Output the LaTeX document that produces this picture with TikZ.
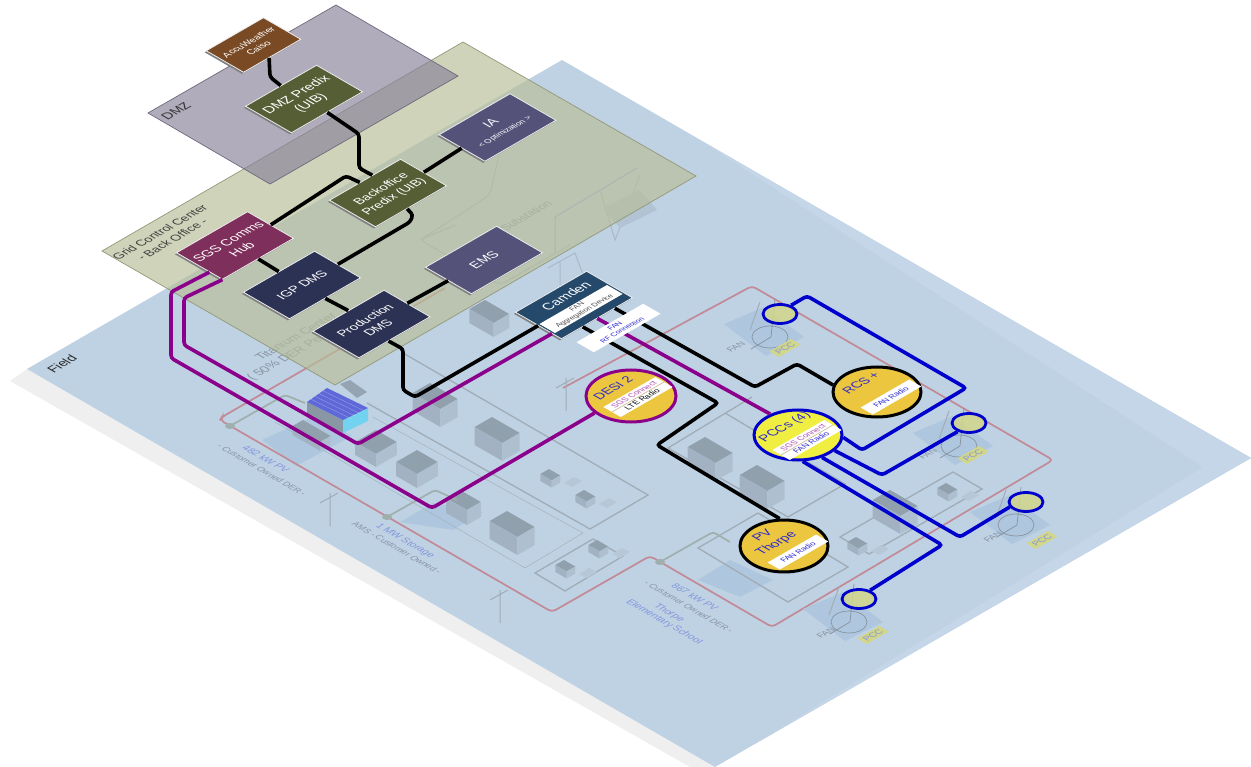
\documentclass[tikz,border=0pt]{standalone}
\usepackage{fontspec}
\setmainfont{Liberation Sans}
\usetikzlibrary{shapes.geometric,shadows}

\definecolor{fieldblue}{RGB}{191,210,228}
\definecolor{fieldout}{RGB}{196,214,231}
\definecolor{stripgray}{RGB}{239,239,239}
\definecolor{gridgreen}{RGB}{184,190,151}
\definecolor{dmzgray}{RGB}{137,131,155}
\definecolor{predixgreen}{RGB}{85,94,53}
\definecolor{ianavy}{RGB}{85,82,122}
\definecolor{dmsnavy}{RGB}{43,50,83}
\definecolor{hubred}{RGB}{127,47,91}
\definecolor{accubrown}{RGB}{122,74,36}
\definecolor{camdenblue}{RGB}{36,73,107}
\definecolor{wirepurple}{RGB}{139,0,139}
\definecolor{wireblue}{RGB}{0,0,204}
\definecolor{gold}{RGB}{236,198,63}
\definecolor{pccyellow}{RGB}{240,238,64}
\definecolor{sitegreen}{RGB}{210,214,138}
\definecolor{feederpink}{RGB}{194,138,150}
\definecolor{lotgray}{RGB}{160,172,182}
\definecolor{branchgray}{RGB}{159,176,172}
\definecolor{ghostblue}{RGB}{130,150,220}
\definecolor{ghostgray}{RGB}{135,148,165}
\definecolor{patchblue}{RGB}{175,199,222}
\definecolor{tagtan}{RGB}{205,190,150}
\definecolor{labelblue}{RGB}{40,40,210}

\tikzset{
  ft/.style={font=\fontsize{#1}{\the\dimexpr#1pt*6/5\relax}\selectfont},
  isoup/.style={cm={.866,.5,-.866,.5,(0,0)}},
  isodown/.style={cm={.866,-.5,.866,.5,(0,0)}},
  plane/.style={line width=.7pt},
  box/.style={isoup, draw=white!85!gray, line width=.8pt, text=white, align=center,
    inner sep=0pt, minimum width=82pt, minimum height=53pt,
    general shadow={fill=black!50, shadow xshift=-1.6pt, shadow yshift=-1.6pt}},
  tag/.style={isoup, fill=white, align=center, inner sep=0pt},
  lbl/.style={isoup, align=center, inner sep=0pt},
  ghost/.style={isodown, align=center, inner sep=0pt},
  round/.style={ellipse, line width=3pt, inner sep=0pt, minimum width=88pt, minimum height=50pt},
  site/.style={ellipse, draw=wireblue, line width=2.8pt, fill=sitegreen, fill opacity=.85,
    inner sep=0pt, minimum width=34pt, minimum height=19pt},
  wire/.style={line width=3.6pt, rounded corners=3pt},
  feeder/.style={draw=feederpink, line width=1.7pt, rounded corners=4pt},
  lot/.style={draw=lotgray, line width=1.3pt},
  branch/.style={draw=branchgray, line width=1.7pt, rounded corners=3pt},
}

\begin{document}
\begin{tikzpicture}[x=1pt,y=-1pt]
\useasboundingbox (0,0) rectangle (1251,767);

% field plane
\fill[stripgray] (27,369) -- (10,381) -- (690,767) -- (715,767) -- cycle;
\fill[fieldblue] (562,60) -- (1251,458) -- (715,767) -- (27,369) -- cycle;
\fill[fieldout] (700,140) -- (1251,458) -- (760,741) -- (1203,467) -- cycle;

% patches under the sites
\fill[patchblue] (262,440) -- (316,415) -- (352,436) -- (296,466) -- cycle;
\fill[patchblue] (400,522) -- (433,503) -- (483,512) -- (453,530) -- cycle;
\fill[patchblue] (698,580) -- (730,560) -- (773,580) -- (740,597) -- cycle;

% lots
\draw[lot] (367,403) -- (590,529) -- (648,495) -- (403,353);
\draw[lot, thin] (373,417) -- (583,533) -- (525,568) -- (275,422);
\draw[lot] (535,573) -- (593,539) -- (623,556) -- (565,591) -- cycle;
\draw[lot] (752,397) -- (668,448) -- (788,517) -- (845,484) -- (725,413);
\draw[lot] (698,548) -- (758,513) -- (848,567) -- (788,602) -- cycle;
\draw[lot] (840,537) -- (953,472) -- (982,489) -- (869,554) -- cycle;

% buildings
\foreach \bx/\by/\bl/\br/\bh in {430/383/20/32/18, 492/417/20/32/18, 507/511/20/32/18, 705/437/20/32/18,
    757/465/20/32/18, 890/490/20/32/18, 376/430/24/24/13, 417/450/24/24/14, 460/490/16/24/15,
    485/300/18/28/14, 303/420/12/32/9, 549/469/10/13/7, 584/490/10/13/7, 597/540/10/13/7,
    564/560/10/13/7, 856/537/10/13/7, 946/483/10/13/7} {
  \fill[black!24!fieldblue] (\bx,\by) -- ++({-.866*\bl},{.5*\bl}) -- ++({.866*\br},{.5*\br}) -- ++({.866*\bl},{-.5*\bl}) -- cycle;
  \fill[black!15!fieldblue] ({\bx-.866*\bl},{\by+.5*\bl}) -- ++({.866*\br},{.5*\br}) -- ++(0,\bh) -- ++({-.866*\br},{-.5*\br}) -- cycle;
  \fill[black!9!fieldblue] ({\bx+.866*(\br-\bl)},{\by+.5*(\bl+\br)}) -- ++({.866*\bl},{-.5*\bl}) -- ++(0,\bh) -- ++({-.866*\bl},{.5*\bl}) -- cycle;
}
% yards of the houses
\foreach \bx/\by in {549/469, 584/490, 597/540, 564/560, 856/537, 946/483} {
  \fill[black!5!fieldblue] (\bx+15,\by+14) -- ++(10,-6) -- ++(8,4) -- ++(-10,6) -- cycle;
}
% solar building
\fill[black!28!fieldblue] (307,402) -- (343,420) -- (343,433) -- (307,415) -- cycle;
\fill[blue!18!cyan!40!fieldblue] (343,420) -- (368,408) -- (368,421) -- (343,433) -- cycle;
\fill[blue!45!fieldblue!90!black] (327,388) -- (307,402) -- (343,420) -- (368,408) -- cycle;
\foreach \t in {.2,.4,.6,.8} {
  \draw[white, opacity=.35, line width=.4pt] ({327-20*\t},{388+14*\t}) -- ++(41,20);
}
\fill[black!22!fieldblue] (340,384) -- (350,380) -- (367,392) -- (357,398) -- cycle;

% feeder
\draw[feeder] (563,388) -- (752,286) -- (1053,460) -- (772,627) -- (650,556) -- (552,612) -- (220,420) -- (222,417) -- (445,288);
% branches
\draw[branch] (230,426) -- (285,395) -- (305,403);
\draw[branch] (387,517) -- (435,490) -- (457,500);
\draw[branch] (660,562) -- (713,532) -- (730,542);
\foreach \nx/\ny in {230/426,387/517,660/562} {
  \fill[branchgray] (\nx,\ny) ellipse (5 and 3);
}
% poles
\foreach \nx/\ny in {330/493,500/590,566/378} {
  \draw[lotgray, line width=1pt] (\nx,\ny) -- ++(0,33) (\nx-10,\ny+10) -- ++(18,-10);
}

% sites
\foreach \i/\cx/\cy/\fx/\fy/\px/\py in {a/780/314/736/347/785/348, b/969/423/928/454/973/455,
    c/1026/502/993/537/1042/540, d/859/599/826/633/873/635} {
  \fill[patchblue] (\cx,\cy) ++(-56,10) -- ++(40,-17) -- ++(40,30) -- ++(-38,19) -- cycle;
  \draw[black!30!fieldblue, line width=.7pt] (\cx-10,\cy+23) ellipse (18 and 11) (\cx-5,\cy-15) -- ++(-4,38) -- ++(-20,12);
  \draw[lotgray, line width=1pt] (\cx-20,\cy-12) -- ++(-10,28);
  \node[isoup, text=ghostgray, ft=9, inner sep=0pt] (fan\i) at (\fx,\fy) {FAN};
  \node[isoup, fill=sitegreen, text=ghostblue, ft=9, inner sep=1pt, minimum width=25pt, minimum height=11pt] (pcc\i) at (\px,\py) {PCC};
}

% ghost labels
\node[ghost, ft=10, text=ghostblue] (lblA) at (266,459) {482 kW PV};
\node[ghost, ft=8.7, text=ghostgray] (lblB) at (262,470) {- Customer Owned DER -};
\node[ghost, ft=10, text=ghostblue] (lblC) at (405,541) {1 MW Storage};
\node[ghost, ft=8.7, text=ghostgray] (lblD) at (397,548) {AMS - Customer Owned -};
\node[ghost, ft=10, text=ghostblue] (lblE) at (695,597) {867 kW PV};
\node[ghost, ft=8.7, text=ghostgray] (lblF) at (689,607) {- Customer Owned DER -};
\node[ghost, ft=10, text=ghostblue] (lblG) at (669,613) {Thorpe};
\node[ghost, ft=10, text=ghostblue] (lblH) at (664,622) {Elementary School};
\node[lbl, ft=12.5, text=ghostgray] (lblI) at (303,341) {Titanium Center\\( 50\% DER Penetration )};

% things under the grid plane
\draw[black!14!fieldblue, line width=1pt, rounded corners=6pt] (420,240) -- (490,195) -- (500,150) -- (550,120)
  (455,225) -- (420,240) -- (500,285) -- (570,245);
\draw[blue!22!fieldblue, line width=1pt] (637,168) -- (555,217) -- (555,253);
\draw[black!12!fieldblue, line width=1pt] (548,268) -- (575,253) -- (585,280) (560,262) -- (560,285) (600,190) -- (615,240) -- (640,175);
\fill[black!7!fieldblue] (603,208) -- (640,190) -- (657,210) -- (620,228) -- cycle;
\node[lbl, ft=11.5, text=ghostgray] (lblJ) at (526,216) {Substation};

% planes
\filldraw[plane, draw=gridgreen!80!black, fill=gridgreen, fill opacity=.67] (463,42) -- (696,176) -- (335,385) -- (102,251) -- cycle;
\filldraw[plane, draw=dmzgray!80!black, fill=dmzgray, fill opacity=.67] (336,5) -- (458,76) -- (270,184) -- (148,113) -- cycle;
\node[lbl, ft=13, text=black!80] (dmzName) at (176,111) {DMZ};
\node[lbl, ft=12, text=black!75] (gridName) at (166,236) {Grid Control Center\\- Back Office -};
\node[lbl, ft=13, text=black!85] (fieldName) at (62,364) {Field};

% boxes
\node[box, fill=accubrown, ft=9.5, minimum width=66pt, minimum height=43pt] (accu) at (253.5,45) {AccuWeather\\Caiso};
\node[box, fill=predixgreen, ft=13.5] (dmzPredix) at (304,99) {DMZ Predix\\(UIB)};
\node[box, fill=predixgreen, ft=12.5] (backPredix) at (388,193) {Backoffice\\Predix (UIB)};
\node[box, fill=ianavy, ft=13] (ia) at (497.5,127.5) {IA\\[-1pt]{\fontsize{8}{9}\selectfont < Optimization >}};
\node[box, fill=hubred, ft=13] (hub) at (235,245.5) {SGS Comms\\Hub};
\node[box, fill=dmsnavy, ft=12.5] (igp) at (302,285) {IGP DMS};
\node[box, fill=dmsnavy, ft=12.5] (prod) at (371.5,324) {Production\\DMS};
\node[box, fill=ianavy, ft=13] (ems) at (484,260) {EMS};
\node[box, fill=camdenblue] (camden) at (574,305) {};
\node[lbl, ft=13.5, text=white] (camdenName) at (566,296) {Camden};
\node[tag, minimum width=78pt, minimum height=18pt, ft=7.3, text=black!70] (camdenTag) at (581,309) {FAN\\Aggregation Device};

% field nodes
\node[round, draw=wirepurple, fill=gold, minimum width=90pt, minimum height=52pt] (des) at (631,396) {};
\node[round, draw=black, fill=gold] (rcs) at (877,392) {};
\node[round, draw=black, fill=gold, minimum height=52pt] (pv) at (784,546) {};
\node[round, draw=wireblue, fill=pccyellow] (pccs) at (798,435) {};
\foreach \i/\cx/\cy in {a/780/314, b/969/423, c/1026/502, d/859/599} {
  \node[site] (site\i) at (\cx,\cy) {};
}

% wires
\draw[wire] (accu.-100) -- (270,77) -- (dmzPredix.north);
\draw[wire] (dmzPredix.south) -- (359,134) -- (359,168) -- (backPredix.72);
\draw[wire] (backPredix.east) -- (ia.west);
\draw[wire] (hub.east) -- (346,176) -- (backPredix.102);
\draw[wire] (hub.south) -- (igp.north);
\draw[wire] (igp.east) -- (410,222) -- (413,215) -- (backPredix.-100);
\draw[wire] (igp.south) -- (prod.north);
\draw[wire] (prod.east) -- (ems.west);
\draw[wire] (prod.-105) -- (403,349) -- (403,390) -- (415,397) -- (camden.west);
\draw[wire, wirepurple] (hub.196) -- (171,292) -- (171,358) -- (432,508) -- (des.205);
\draw[wire, wirepurple] (hub.south west) -- (184,298) -- (184,345) -- (358,444) -- (camden.201);
\draw[wire] (camden.-53) -- (755,387) -- (797,364) -- (rcs.171);
\draw[wire, wirepurple] (camden.south) -- (pccs.143);
\draw[wire] (camden.-122) -- (718,403) -- (657,445) -- (pv.99);
\draw[wire, wireblue] (pccs.-3) -- (862,450) -- (966,388) -- (807,296) -- (sitea.38);
\draw[wire, wireblue] (pccs.-23) -- (882,475) -- (siteb.217);
\draw[wire, wireblue] (pccs.-43) -- (960,537) -- (sitec.197);
\draw[wire, wireblue] (pccs.-80) -- (942,545) -- (sited.38);

% tags over the wires
\node[tag, minimum width=77pt, minimum height=20pt, ft=7.2, text=labelblue] (rfTag) at (618.5,328) {FAN\\RF Connection};

\node[lbl, ft=12.5, text=labelblue] (desName) at (613,388) {DESI 2};
\node[tag, minimum width=60pt, minimum height=20pt, ft=8] (desTag) at (638,397) {\textcolor{wirepurple!70}{SGS Connect}\\\textcolor{black}{LTE Radio}};
\draw[tagtan, line width=.7pt] (desTag.west) -- (desTag.east);

\node[lbl, ft=12.5, text=labelblue] (rcsName) at (861,383) {RCS +};
\node[tag, minimum width=56pt, minimum height=14pt, ft=7.8, text=labelblue] (rcsTag) at (891,397) {FAN Radio};

\node[lbl, ft=13, text=labelblue] (pvName) at (770,540) {PV\\Thorpe};
\node[tag, minimum width=56pt, minimum height=14pt, ft=7.8, text=labelblue] (pvTag) at (798,552) {FAN Radio};

\node[lbl, ft=13, text=labelblue] (pccsName) at (785,427) {PCCs (4)};
\node[tag, minimum width=60pt, minimum height=20pt, ft=8] (pccsTag) at (807,440) {\textcolor{wirepurple!70}{SGS Connect}\\\textcolor{labelblue}{FAN Radio}};
\draw[tagtan, line width=.7pt] (pccsTag.west) -- (pccsTag.east);
\end{tikzpicture}
\end{document}
